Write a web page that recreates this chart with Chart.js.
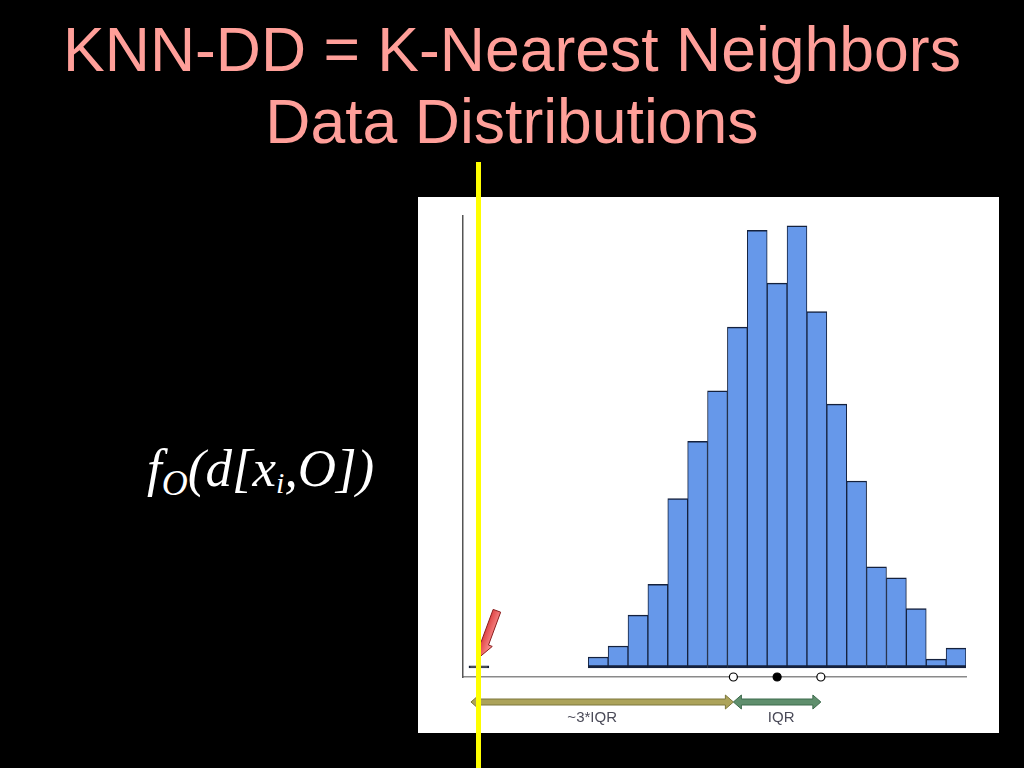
<!DOCTYPE html>
<html>
<head>
<meta charset="utf-8">
<script src="https://cdn.jsdelivr.net/npm/chart.js@4"></script>
<style>
    body { margin: 0; background: #000; width: 1024px; height: 768px; overflow: hidden; position: relative; }
    .title {
        position: absolute; left: 0; top: 13px; width: 1024px; text-align: center;
        font-family: "Liberation Sans", Arial, sans-serif; font-size: 62.5px; line-height: 72px; color: #ff9f99;
    }
    .formula {
        position: absolute; left: 147px; top: 438px; white-space: nowrap;
        font-family: "Liberation Serif", "Times New Roman", serif; font-style: italic;
        font-size: 53px; line-height: 60px; color: #fff;
    }
    .formula .sub { position: relative; line-height: 0; }
    .panel { position: absolute; left: 418px; top: 197px; background: #fff; }
    .marker { position: absolute; left: 476px; top: 162px; width: 5px; height: 606px; background: #ffff00; z-index: 5; }
</style>
</head>
<body>
<div class="title">KNN-DD = K-Nearest Neighbors<br>Data Distributions</div>
<div class="formula">f<span class="sub" style="font-size:36px;top:9px">O</span>(d[x<span class="sub" style="font-size:30px;top:7px">i</span>,O])</div>
<canvas id="histChart" class="panel" width="581" height="536"></canvas>
<div class="marker"></div>

<script>
// histogram bins (bin index) and counts
const binIndex = [0, 1, 2, 3, 4, 5, 6, 7, 8, 9, 10, 11, 12, 13, 14, 15, 16, 17, 18, 19, 20, 21, 22, 23, 24];
const binCounts = [1, 0, 0, 0, 0, 0, 5, 10, 24, 38, 77, 103, 126, 155, 199, 175, 201, 162, 120, 85, 46, 41, 27, 4, 9];

// box plot markers: Q1, median, Q3
const quartiles = [12.8, 15.0, 17.2];
const quartileFill = ['#ffffff', '#000000', '#ffffff'];

const outlierBin = 0;
const rangeLabels = ['~3*IQR', 'IQR'];

const xMin = -0.8, xMax = 24.5;
const yMin = -4.1, yMax = 205.5;

function doubleArrow(ctx, x1, x2, y, fill, stroke) {
    const shaft = 3, head = 8, headH = 7;
    ctx.beginPath();
    ctx.moveTo(x1, y);
    ctx.lineTo(x1 + head, y - headH);
    ctx.lineTo(x1 + head, y - shaft);
    ctx.lineTo(x2 - head, y - shaft);
    ctx.lineTo(x2 - head, y - headH);
    ctx.lineTo(x2, y);
    ctx.lineTo(x2 - head, y + headH);
    ctx.lineTo(x2 - head, y + shaft);
    ctx.lineTo(x1 + head, y + shaft);
    ctx.lineTo(x1 + head, y + headH);
    ctx.closePath();
    ctx.fillStyle = fill;
    ctx.fill();
    ctx.strokeStyle = stroke;
    ctx.lineWidth = 1;
    ctx.stroke();
}

// Arrows under the axis and the red pointer at the outlier
const annotations = {
    id: 'annotations',
    afterDraw(chart) {
        const ctx = chart.ctx;
        const xs = chart.scales.x, ys = chart.scales.y;
        const q1 = quartiles[0], q3 = quartiles[2];
        const iqr = q3 - q1;
        const pL = xs.getPixelForValue(q1 - 3 * iqr);
        const p1 = xs.getPixelForValue(q1);
        const p3 = xs.getPixelForValue(q3);
        const ay = chart.chartArea.bottom + 25;

        ctx.save();
        doubleArrow(ctx, pL, p1, ay, '#aca35a', '#7c773c');
        doubleArrow(ctx, p1, p3, ay, '#5f8f6d', '#3d6a4c');

        ctx.font = '15px "Liberation Sans", Arial, sans-serif';
        ctx.fillStyle = '#4a4a58';
        ctx.textAlign = 'center';
        ctx.textBaseline = 'middle';
        ctx.fillText(rangeLabels[0], (pL + p1) / 2 - 10, ay + 16);
        ctx.fillText(rangeLabels[1], (p1 + p3) / 2 + 4, ay + 16);

        // red pointer
        const bx = xs.getPixelForValue(binIndex[outlierBin]) + 1;
        const by = ys.getPixelForValue(binCounts[outlierBin]) - 9;
        const tx = bx + 17, ty = by - 46;
        const len = Math.hypot(bx - tx, by - ty);
        const ux = (bx - tx) / len, uy = (by - ty) / len;
        const nx = -uy, ny = ux;
        const sw = 4, hw = 8, hl = 14;
        const hx = bx - ux * hl, hy = by - uy * hl;
        const grad = ctx.createLinearGradient(tx - nx * hw, ty - ny * hw, tx + nx * hw, ty + ny * hw);
        grad.addColorStop(0, '#ff9a9a');
        grad.addColorStop(1, '#d42a2a');
        ctx.beginPath();
        ctx.moveTo(tx + nx * sw, ty + ny * sw);
        ctx.lineTo(hx + nx * sw, hy + ny * sw);
        ctx.lineTo(hx + nx * hw, hy + ny * hw);
        ctx.lineTo(bx, by);
        ctx.lineTo(hx - nx * hw, hy - ny * hw);
        ctx.lineTo(hx - nx * sw, hy - ny * sw);
        ctx.lineTo(tx - nx * sw, ty - ny * sw);
        ctx.closePath();
        ctx.fillStyle = grad;
        ctx.fill();
        ctx.strokeStyle = '#8a1c1c';
        ctx.lineWidth = 1;
        ctx.stroke();
        ctx.restore();
    }
};

const barData = binIndex.map((b, i) => ({ x: b, y: binCounts[i] > 0 ? binCounts[i] : null }));
const markerData = quartiles.map(q => ({ x: q, y: yMin }));

new Chart(document.getElementById('histChart'), {
    type: 'bar',
    data: {
        datasets: [
            {
                type: 'scatter',
                data: markerData,
                pointRadius: 4,
                pointBackgroundColor: quartileFill,
                pointBorderColor: '#000',
                pointBorderWidth: 1.2,
                clip: false
            },
            {
                data: barData,
                backgroundColor: ctx => ctx.dataIndex === outlierBin ? '#111' : '#6698ea',
                borderColor: '#14213d',
                borderWidth: { top: 1.5, left: 1, right: 1, bottom: 3 },
                borderSkipped: false,
                barPercentage: 1,
                categoryPercentage: 1
            }
        ]
    },
    options: {
        responsive: false,
        animation: false,
        layout: { padding: { left: 45, right: 33, top: 19, bottom: 56 } },
        plugins: { legend: { display: false }, tooltip: { enabled: false } },
        scales: {
            x: {
                type: 'linear', min: xMin, max: xMax, offset: false,
                grid: { display: false, drawTicks: false },
                ticks: { display: false, padding: 0 },
                border: { display: true, color: '#8a8a8a', width: 1.5 }
            },
            y: {
                min: yMin, max: yMax,
                grid: { display: false, drawTicks: false },
                ticks: { display: false, padding: 0 },
                border: { display: true, color: '#555', width: 1.5 }
            }
        }
    },
    plugins: [annotations]
});
</script>
</body>
</html>
